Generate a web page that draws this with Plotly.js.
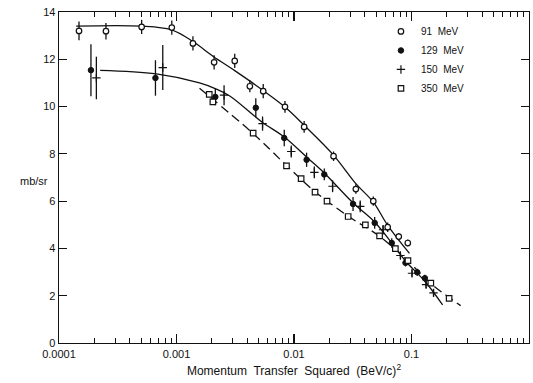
<!DOCTYPE html>
<html>
<head>
<meta charset="utf-8">
<script src="https://cdn.plot.ly/plotly-3.0.1.min.js"></script>
<style>html,body{margin:0;padding:0;background:#fff;}#chart{width:533px;height:383px;}</style>
</head>
<body>
<div id="chart"></div>
<script>
// ---- data ----
const seriesNames = ["91  MeV", "129  MeV", "150  MeV", "350  MeV"];

const q2_91  = [1.48e-4, 2.51e-4, 5.05e-4, 9.12e-4, 1.38e-3, 2.09e-3, 3.13e-3, 4.21e-3, 5.47e-3, 8.38e-3, 1.22e-2, 2.17e-2, 3.36e-2, 4.73e-2, 6.27e-2, 7.79e-2, 9.30e-2];
const xs_91  = [13.20, 13.19, 13.37, 13.34, 12.67, 11.87, 11.93, 10.86, 10.65, 9.99, 9.14, 7.90, 6.51, 6.00, 4.90, 4.50, 4.23];
const err_91 = [0.40, 0.35, 0.30, 0.30, 0.30, 0.30, 0.30, 0.25, 0.30, 0.25, 0.25, 0.20, 0.20, 0.20, 0.20, 0.15, 0.15];

const q2_129  = [1.87e-4, 6.62e-4, 2.14e-3, 4.73e-3, 8.26e-3, 1.28e-2, 1.81e-2, 3.18e-2, 4.86e-2, 6.79e-2, 8.89e-2, 0.112, 0.130];
const xs_129  = [11.54, 11.21, 10.41, 9.95, 8.67, 7.75, 7.13, 5.88, 5.08, 4.23, 3.39, 2.99, 2.74];
const err_129 = [1.10, 0.75, 0.35, 0.40, 0.35, 0.30, 0.25, 0.30, 0.25, 0.20, 0.15, 0.15, 0.15];

const q2_150  = [2.08e-4, 7.64e-4, 2.54e-3, 5.40e-3, 9.48e-3, 1.49e-2, 2.13e-2, 3.66e-2, 5.73e-2, 8.05e-2, 0.101, 0.133, 0.154];
const xs_150  = [11.21, 11.65, 10.48, 9.28, 8.10, 7.22, 6.63, 5.78, 4.79, 3.70, 2.95, 2.47, 2.12];
const err_150 = [0.90, 0.95, 0.42, 0.30, 0.25, 0.25, 0.25, 0.25, 0.20, 0.15, 0.15, 0.15, 0.15];

const q2_350 = [1.90e-3, 2.04e-3, 4.49e-3, 8.63e-3, 1.15e-2, 1.51e-2, 1.91e-2, 2.89e-2, 4.05e-2, 5.35e-2, 7.29e-2, 9.33e-2, 0.146, 0.209];
const xs_350 = [10.52, 10.20, 8.88, 7.49, 6.95, 6.38, 6.00, 5.35, 5.00, 4.53, 3.99, 3.48, 2.53, 1.89];

// fitted curves as drawn in the reference
const curveA_q2 = [1.40e-4, 5.02e-4, 9.06e-4, 1.37e-3, 2.07e-3, 3.13e-3, 5.43e-3, 8.38e-3, 1.22e-2, 2.15e-2, 3.39e-2, 4.73e-2, 6.23e-2, 9.61e-2];
const curveA_xs = [13.40, 13.40, 13.24, 12.76, 12.11, 11.52, 10.69, 9.98, 9.21, 7.97, 6.72, 5.96, 5.00, 3.79];

const curveB_q2 = [2.24e-4, 6.74e-4, 1.57e-3, 2.16e-3, 2.84e-3, 5.33e-3, 8.22e-3, 1.29e-2, 1.80e-2, 3.19e-2, 4.83e-2, 6.75e-2, 8.89e-2, 0.132, 0.184];
const curveB_xs = [11.53, 11.38, 11.00, 10.75, 10.45, 9.35, 8.72, 7.85, 7.20, 5.92, 5.13, 4.25, 3.47, 2.57, 1.61];

const curveC_q2 = [1.57e-3, 4.47e-3, 8.71e-3, 1.51e-2, 2.90e-2, 5.32e-2, 9.24e-2, 0.145, 0.262];
const curveC_xs = [10.77, 8.87, 7.49, 6.40, 5.36, 4.52, 3.49, 2.53, 1.58];

const xTickVals = [0.0001, 0.001, 0.01, 0.1, 1];
const xTickText = ["0.0001", "0.001", "0.01", "0.1", "1.0"];
const yTickVals = [0, 2, 4, 6, 8, 10, 12, 14];

// ---- build ----
const minorVals = [];
for (let d = -4; d < 0; d++) for (let m = 2; m <= 9; m++) minorVals.push(m * Math.pow(10, d));

const ink = "#111";
const font = "Liberation Sans, Arial, sans-serif";
const eb = a => ({type: "data", array: a, visible: true, color: ink, thickness: 1.3, width: 0});

const traces = [
  {x: curveA_q2, y: curveA_xs, mode: "lines", line: {color: ink, width: 1.3, shape: "spline", smoothing: 1}, showlegend: false, hoverinfo: "skip"},
  {x: curveB_q2, y: curveB_xs, mode: "lines", line: {color: ink, width: 1.3, shape: "spline", smoothing: 1}, showlegend: false, hoverinfo: "skip"},
  {x: curveC_q2, y: curveC_xs, mode: "lines", line: {color: ink, width: 1.3, shape: "spline", dash: "9px,5px"}, showlegend: false, hoverinfo: "skip"},
  {x: q2_91, y: xs_91, error_y: eb(err_91), mode: "markers", name: seriesNames[0],
   marker: {symbol: "circle", size: 5.5, color: "#fff", line: {color: ink, width: 1.2}}},
  {x: q2_129, y: xs_129, error_y: eb(err_129), mode: "markers", name: seriesNames[1],
   marker: {symbol: "circle", size: 5.5, color: ink, line: {color: ink, width: 1}}},
  {x: q2_150, y: xs_150, error_y: eb(err_150), mode: "markers", name: seriesNames[2],
   marker: {symbol: "cross-thin-open", size: 6, color: ink, line: {color: ink, width: 1.2}}},
  {x: q2_350, y: xs_350, mode: "markers", name: seriesNames[3],
   marker: {symbol: "square", size: 5.5, color: "#fff", line: {color: ink, width: 1.2}}}
];

const layout = {
  width: 533, height: 383,
  margin: {l: 59, r: 4, t: 12, b: 40},
  paper_bgcolor: "#fff", plot_bgcolor: "#fff",
  font: {family: font, size: 11, color: ink},
  showlegend: true,
  legend: {x: 0.685, y: 0.985, xanchor: "left", yanchor: "top", bgcolor: "rgba(0,0,0,0)",
           font: {family: font, size: 10, color: ink}, itemwidth: 30, tracegroupgap: 0},
  xaxis: {
    type: "log", range: [-4, 0],
    tickmode: "array", tickvals: xTickVals, ticktext: xTickText,
    ticks: "inside", ticklen: 9, tickwidth: 1.2, tickcolor: ink,
    minor: {tickmode: "array", tickvals: minorVals, ticks: "inside", ticklen: 5, tickwidth: 1, tickcolor: ink, showgrid: false},
    showline: true, linecolor: ink, linewidth: 1.4, mirror: "ticks",
    showgrid: false, zeroline: false,
    tickfont: {family: font, size: 11, color: ink},
    title: {text: "Momentum  Transfer  Squared  (BeV/c)<sup>2</sup>", font: {family: font, size: 12, color: ink}, standoff: 8}
  },
  yaxis: {
    range: [0, 14],
    tickmode: "array", tickvals: yTickVals,
    ticks: "inside", ticklen: 8, tickwidth: 1.2, tickcolor: ink,
    showline: true, linecolor: ink, linewidth: 1.4, mirror: "ticks",
    showgrid: false, zeroline: false,
    tickfont: {family: font, size: 11, color: ink}
  },
  annotations: [
    {text: "mb/sr", xref: "paper", yref: "paper", x: -0.02, y: 0.49, xanchor: "right", yanchor: "middle",
     showarrow: false, font: {family: font, size: 11, color: ink}}
  ]
};

Plotly.newPlot("chart", traces, layout, {staticPlot: true, displayModeBar: false});
</script>
</body>
</html>
